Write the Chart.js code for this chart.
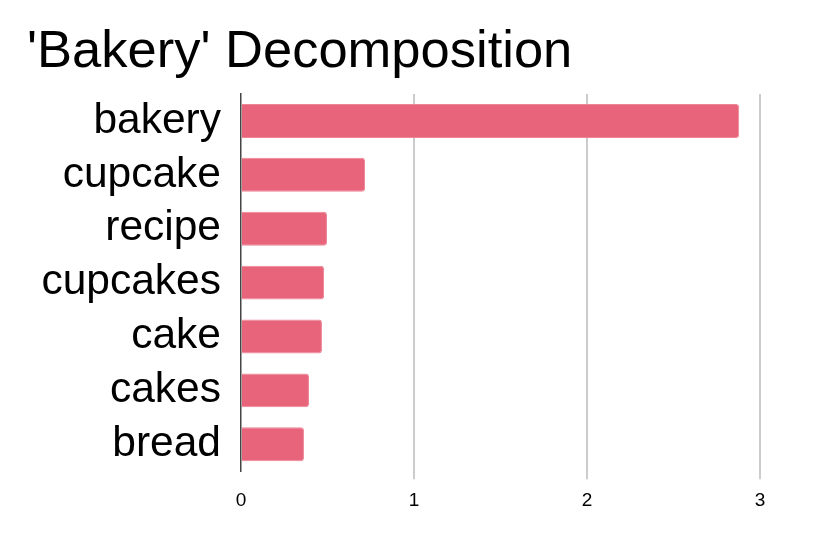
<!DOCTYPE html>
<html lang="en">
<head>
    <meta charset="UTF-8">
    <title>'Bakery' Decomposition</title>
    <style>
        * {
            margin: 0;
            padding: 0;
            box-sizing: border-box;
        }
        body {
            background-color: #fff;
            font-family: "Liberation Sans", Arial, sans-serif;
        }
        #wrap {
            width: 830px;
            height: 536px;
        }
    </style>
</head>
<body>

<div id="wrap">
    <canvas id="decompChart" width="830" height="536"></canvas>
</div>

<script src="https://cdn.jsdelivr.net/npm/chart.js@4.4.0/dist/chart.umd.min.js"></script>

<script>
// chart data
const terms = ['bakery', 'cupcake', 'recipe', 'cupcakes', 'cake', 'cakes', 'bread'];
const weights = [2.88, 0.717, 0.497, 0.48, 0.468, 0.393, 0.364];
const xTicks = [0, 1, 2, 3];

const barColor = '#e8647a';
const fontName = '"Liberation Sans", Arial, sans-serif';

new Chart(document.getElementById('decompChart'), {
    type: 'bar',
    data: {
        labels: terms,
        datasets: [{
            data: weights,
            backgroundColor: barColor,
            borderColor: '#ee8597',
            borderWidth: 1,
            borderSkipped: 'start',
            borderRadius: 3,
            categoryPercentage: 1,
            barPercentage: 0.63
        }]
    },
    options: {
        indexAxis: 'y',
        responsive: false,
        animation: false,
        layout: {
            padding: { left: 27, right: 70, top: 0, bottom: 14 }
        },
        plugins: {
            legend: { display: false },
            tooltip: { enabled: false },
            title: {
                display: true,
                text: "'Bakery' Decomposition",
                align: 'start',
                color: '#000',
                font: { family: fontName, size: 52.5, weight: 'normal', lineHeight: 1.2 },
                padding: { top: 21, bottom: 10 }
            }
        },
        scales: {
            x: {
                min: xTicks[0],
                max: xTicks[xTicks.length - 1],
                afterBuildTicks: axis => { axis.ticks = xTicks.map(v => ({ value: v })); },
                border: { display: false },
                grid: {
                    color: ctx => ctx.tick && ctx.tick.value === 0 ? 'rgba(0,0,0,0)' : '#cccccc',
                    lineWidth: 2,
                    drawTicks: true,
                    tickLength: 8
                },
                ticks: {
                    color: '#000',
                    padding: 10,
                    font: { family: fontName, size: 19 }
                }
            },
            y: {
                afterFit: axis => { axis.width = 214; },
                border: { display: true, color: '#444', width: 1.5 },
                grid: { display: false, drawTicks: false },
                ticks: {
                    autoSkip: false,
                    color: '#000',
                    padding: 20,
                    font: { family: fontName, size: 42.5 }
                }
            }
        }
    }
});
</script>

</body>
</html>
